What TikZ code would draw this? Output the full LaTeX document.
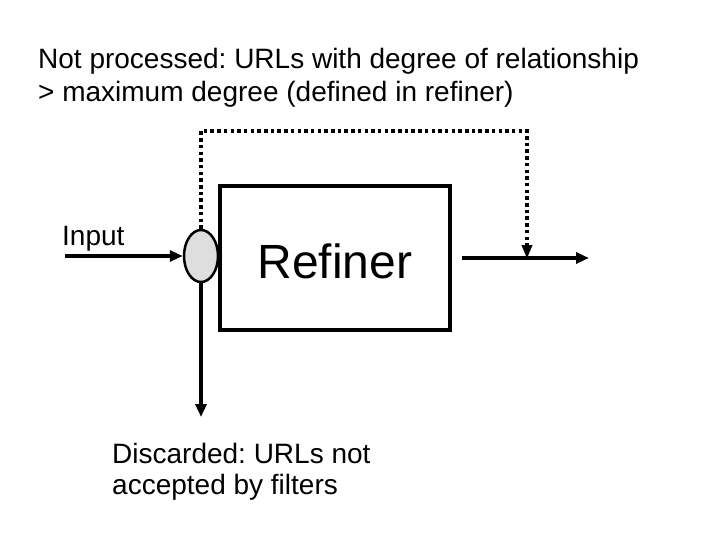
\documentclass[tikz,border=0pt]{standalone}
\usepackage{fontspec}
\setmainfont{Liberation Sans}
\usetikzlibrary{arrows.meta,shapes.geometric}
\frenchspacing
\begin{document}
\begin{tikzpicture}[x=1pt,y=-1pt,
  lbl/.style={inner sep=0pt,font=\fontsize{28}{33}\selectfont\frenchspacing,align=left},
  arr/.style={line width=3.4pt,-{Triangle[length=13pt,width=11pt]}},
  dotline/.style={line width=3.5pt,dash pattern=on 3.5pt off 3.2pt},
  box/.style={draw,line width=4pt,minimum width=230pt,minimum height=144pt,inner sep=0pt},
  filt/.style={ellipse,draw,line width=2.5pt,fill=black!13,minimum width=34pt,minimum height=52pt,inner sep=0pt}]
\useasboundingbox (0,0) rectangle (720,540);
\node[box] (ref) at (335,258) {};
\node[inner sep=0pt,font=\fontsize{48}{52}\selectfont,anchor=base] (reft) at (335,278) {Refiner};
\node[filt] (f) at (201,256) {};
\coordinate (in) at (65,256);
\coordinate (dn) at (201,417);
\coordinate (tl) at (201,131);
\coordinate (tr) at (527,131);
\coordinate (o1) at (462,258);
\coordinate (o2) at (589,258);
\coordinate (om) at (527,258);
\coordinate (oma) at (527,245);
\draw[arr] (in) -- (f.west);
\draw[arr] (f.south) -- (dn);
\draw[arr] (o1) -- (o2);
\draw[dotline] (f.north) -- (tl) -- (tr) -- (oma);
\draw[-{Triangle[length=13pt,width=11pt]},line width=0.1pt] (oma) -- (om);
\node[lbl,anchor=base west] (np) at (38,102) {Not processed: URLs with degree of relationship\\> maximum degree (defined in refiner)};
\node[lbl,anchor=base west] (inp) at (62,245) {Input};
\node[lbl,font=\fontsize{28}{31}\selectfont,anchor=base west] (dis) at (112,494) {Discarded: URLs not\\accepted by filters};
\end{tikzpicture}
\end{document}
